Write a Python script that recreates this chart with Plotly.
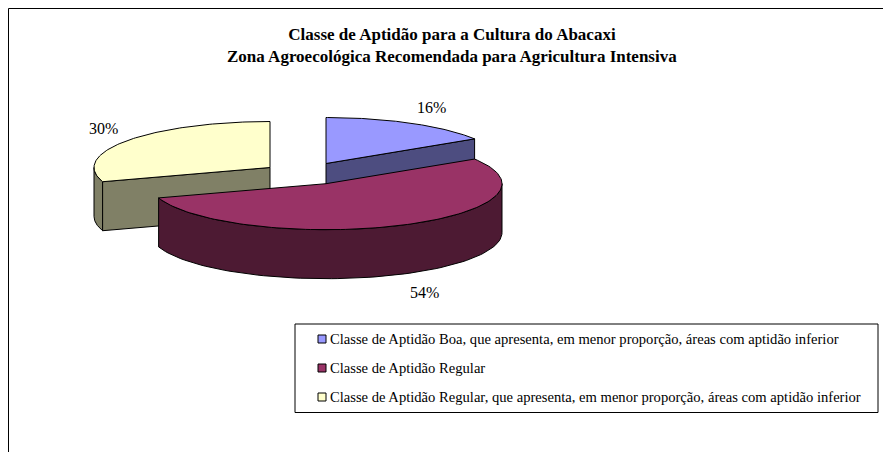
import numpy as np
import plotly.graph_objects as go

categories = [
    "Classe de Aptidão Boa, que apresenta, em menor proporção, áreas com aptidão inferior",
    "Classe de Aptidão Regular",
    "Classe de Aptidão Regular, que apresenta, em menor proporção, áreas com aptidão inferior",
]
values = [16, 54, 30]
title_lines = [
    "Classe de Aptidão para a Cultura do Abacaxi",
    "Zona Agroecológica Recomendada para Agricultura Intensiva",
]

top_colors = ["#9999FF", "#993366", "#FFFFCC"]
side_colors = ["#4D4D80", "#4D1A33", "#808066"]

W, H = 883, 452
RX, RY, DEPTH = 176, 46, 49
centers = [(326, 163.5), (326, 183.7), (270, 167.5)]
label_pos = [(431.5, 107), (424, 292), (103.5, 128)]
FONT = "Liberation Serif"

total = sum(values)
edges = np.cumsum([0] + values) / total * 360


def ell(c, t):
    t = np.radians(t)
    return c[0] + RX * np.sin(t), c[1] - RY * np.cos(t)


def poly(xs, ys, color, name=None):
    return go.Scatter(
        x=list(xs), y=list(ys), mode="lines", fill="toself", fillcolor=color,
        line=dict(color="black", width=1), hoverinfo="skip",
        showlegend=False, name=name,
    )


def top(i):
    c = centers[i]
    t = np.linspace(edges[i], edges[i + 1], 120)
    x, y = ell(c, t)
    return poly(np.r_[c[0], x, c[0]], np.r_[c[1], y, c[1]], top_colors[i], categories[i])


def wall(i, t0, t1):
    c = centers[i]
    t = np.linspace(t0, t1, 80)
    x, y = ell(c, t)
    return poly(np.r_[x, x[::-1], x[0]], np.r_[y, y[::-1] + DEPTH, y[0]], side_colors[i])


def cut(i, t):
    c = centers[i]
    x, y = ell(c, t)
    return poly([c[0], x, x, c[0], c[0]], [c[1], y, y + DEPTH, c[1] + DEPTH, c[1]], side_colors[i])


fig = go.Figure()
# back-to-front painting order: blue, yellow, then the large red slice
fig.add_trace(cut(0, edges[1]))
fig.add_trace(top(0))
fig.add_trace(wall(2, edges[2], 270))
fig.add_trace(cut(2, edges[2]))
fig.add_trace(top(2))
fig.add_trace(wall(1, 90, edges[2]))
fig.add_trace(top(1))

# legend rows
legend_y = [339, 368, 397]
fig.add_trace(go.Scatter(
    x=[322, 322, 322], y=legend_y, mode="markers",
    marker=dict(symbol="square", size=8, color=top_colors, line=dict(color="black", width=1)),
    hoverinfo="skip", showlegend=False,
))

annotations = [
    dict(x=p[0], y=p[1], text=f"{v}%", showarrow=False,
         font=dict(family=FONT, size=16, color="black"))
    for p, v in zip(label_pos, values)
]
annotations += [
    dict(x=330, y=y, text=c, showarrow=False, xanchor="left", xshift=-2,
         font=dict(family=FONT, size=14.6, color="black"))
    for y, c in zip(legend_y, categories)
]
annotations.append(dict(x=452, y=56, text=f"<b>{title_lines[1]}</b>", showarrow=False,
                        font=dict(family=FONT, size=17, color="black")))

shapes = [
    dict(type="line", x0=8.5, x1=W, y0=8.5, y1=8.5, line=dict(color="black", width=1)),
    dict(type="line", x0=8.5, x1=8.5, y0=8.5, y1=H, line=dict(color="black", width=1)),
    dict(type="rect", x0=295, x1=878, y0=324, y1=412.5, line=dict(color="black", width=1), layer="below"),
]

fig.update_layout(
    width=W, height=H, margin=dict(l=0, r=0, t=0, b=0),
    paper_bgcolor="white", plot_bgcolor="white", showlegend=False,
    title=dict(text=f"<b>{title_lines[0]}</b>", x=452 / W, xanchor="center",
               y=1 - 34 / H, yanchor="middle", yref="container",
               font=dict(family=FONT, size=17, color="black")),
    xaxis=dict(range=[0, W], visible=False, fixedrange=True),
    yaxis=dict(range=[H, 0], visible=False, fixedrange=True),
    annotations=annotations, shapes=shapes,
)
fig.write_html(
    "out.html",
    config={"displayModeBar": False},
    post_script="document.body.style.margin='0';document.documentElement.style.overflow='hidden';",
)
